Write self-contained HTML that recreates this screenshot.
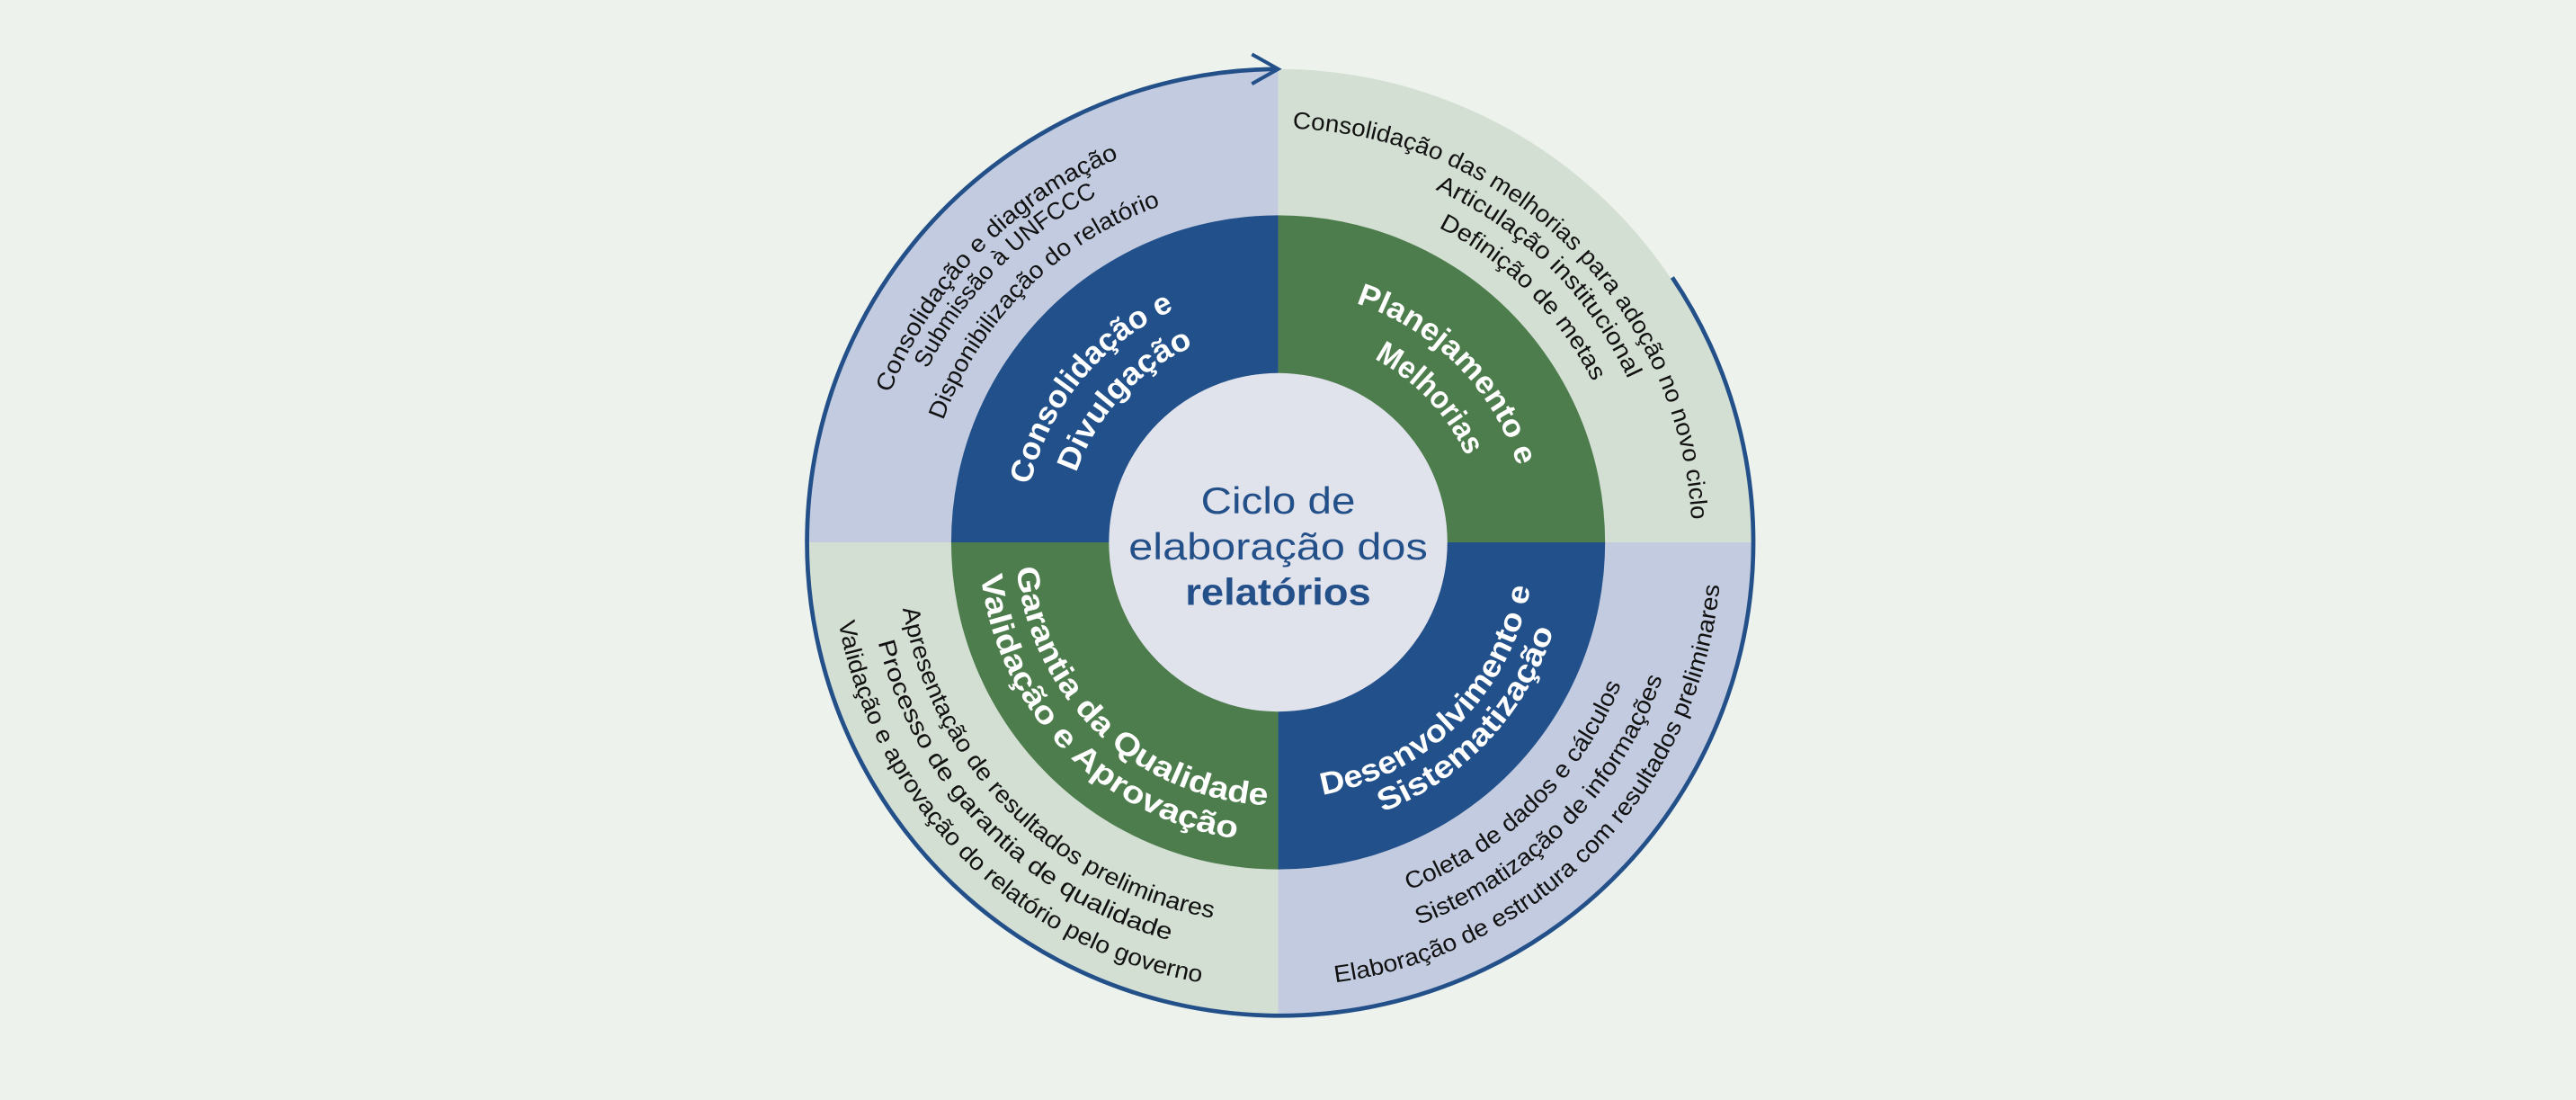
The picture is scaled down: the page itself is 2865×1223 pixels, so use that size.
<!DOCTYPE html>
<html><head><meta charset="utf-8"><style>
html,body{margin:0;padding:0;background:#edf3ec;}
svg{display:block;}
.o{font-family:"Liberation Sans",sans-serif;font-size:14.5px;fill:#111;}
.m{font-family:"Liberation Sans",sans-serif;font-size:19px;font-weight:bold;fill:#fff;}
.c{font-family:"Liberation Sans",sans-serif;font-size:23px;fill:#24508a;}
</style></head><body>
<svg width="2865" height="1223" viewBox="0 0 1568 669.3" xmlns="http://www.w3.org/2000/svg">
<rect x="0" y="0" width="1568" height="670" fill="#edf3ec"/>
<defs>
<path id="p1" d="M541.8,239.3 A253,253 0 0 1 680.8,96.4"/>
<path id="p2" d="M564.6,224.5 A238,238 0 0 1 667.7,119.1"/>
<path id="p3" d="M574.1,255.8 A217,217 0 0 1 706.3,125.2"/>
<path id="p4" d="M786.8,78.2 A252,252 0 0 1 1029.6,316.8"/>
<path id="p5" d="M873.6,115.3 A235,235 0 0 1 991.0,230.7"/>
<path id="p6" d="M875.6,138.4 A215,215 0 0 1 969.6,232.4"/>
<path id="p7" d="M627.0,295.1 A155,155 0 0 1 715.0,188.4"/>
<path id="p8" d="M655.1,287.7 A130,130 0 0 1 727.2,210.3"/>
<path id="p9" d="M825.3,184.5 A153,153 0 0 1 923.9,284.0"/>
<path id="p10" d="M836.4,218.3 A126,126 0 0 1 892.8,278.2"/>
<path id="p11" d="M857.5,541.6 A226,226 0 0 0 987.1,415.8"/>
<path id="p12" d="M863.6,562.7 A248,248 0 0 0 1012.2,411.6"/>
<path id="p13" d="M812.8,597.8 A270,270 0 0 0 1046.8,354.9"/>
<path id="p14" d="M805.1,483.6 A156,156 0 0 0 931.6,357.1"/>
<path id="p15" d="M841.6,494.1 A176,176 0 0 0 945.9,382.9"/>
<path id="p16" d="M549.5,370.3 A232,232 0 0 0 739.3,558.8"/>
<path id="p17" d="M534.5,390.7 A251,251 0 0 0 713.0,572.4"/>
<path id="p18" d="M510.4,378.6 A272,272 0 0 0 731.7,598.0"/>
<path id="p19" d="M618.8,345.6 A160,160 0 0 0 772.4,489.9"/>
<path id="p20" d="M597.1,350.3 A182,182 0 0 0 753.6,510.4"/>
</defs>
<path d="M778,330 L490,330 A288,288 0 0 1 778,42 Z" fill="#c2cbdf"/>
<path d="M778,330 L778,42 A288,288 0 0 1 1066,330 Z" fill="#d3dfd3"/>
<path d="M778,330 L1066,330 A288,288 0 0 1 778,618 Z" fill="#c2cbdf"/>
<path d="M778,330 L778,618 A288,288 0 0 1 490,330 Z" fill="#d3dfd3"/>
<path d="M778,330 L579,330 A199,199 0 0 1 778,131 Z" fill="#22508a"/>
<path d="M778,330 L778,131 A199,199 0 0 1 977,330 Z" fill="#4e7d4d"/>
<path d="M778,330 L977,330 A199,199 0 0 1 778,529 Z" fill="#22508a"/>
<path d="M778,330 L778,529 A199,199 0 0 1 579,330 Z" fill="#4e7d4d"/>
<circle cx="778" cy="330" r="103" fill="#e1e3ec"/>
<path d="M1017.9,168.8 A288,288 0 1 1 778,42" fill="none" stroke="#24508a" stroke-width="2.6"/>
<path d="M762,33 L778,42 L762,51" fill="none" stroke="#24508a" stroke-width="2.2"/>
<text class="o"><textPath href="#p1" textLength="205" lengthAdjust="spacingAndGlyphs">Consolidação e diagramação</textPath></text>
<text class="o"><textPath href="#p2" textLength="150" lengthAdjust="spacingAndGlyphs">Submissão à UNFCCC</textPath></text>
<text class="o"><textPath href="#p3" textLength="192" lengthAdjust="spacingAndGlyphs">Disponibilização do relatório</textPath></text>
<text class="o"><textPath href="#p4" textLength="373" lengthAdjust="spacingAndGlyphs">Consolidação das melhorias para adoção no novo ciclo</textPath></text>
<text class="o"><textPath href="#p5" textLength="168" lengthAdjust="spacingAndGlyphs">Articulação institucional</textPath></text>
<text class="o"><textPath href="#p6" textLength="135" lengthAdjust="spacingAndGlyphs">Definição de metas</textPath></text>
<text class="o"><textPath href="#p11" textLength="185" lengthAdjust="spacingAndGlyphs">Coleta de dados e cálculos</textPath></text>
<text class="o"><textPath href="#p12" textLength="218" lengthAdjust="spacingAndGlyphs">Sistematização de informações</textPath></text>
<text class="o"><textPath href="#p13" textLength="363" lengthAdjust="spacingAndGlyphs">Elaboração de estrutura com resultados preliminares</textPath></text>
<text class="o"><textPath href="#p16" textLength="284" lengthAdjust="spacingAndGlyphs">Apresentação de resultados preliminares</textPath></text>
<text class="o"><textPath href="#p17" textLength="266" lengthAdjust="spacingAndGlyphs">Processo de garantia de qualidade</textPath></text>
<text class="o"><textPath href="#p18" textLength="331" lengthAdjust="spacingAndGlyphs">Validação e aprovação do relatório pelo governo</textPath></text>
<text class="m"><textPath href="#p7" textLength="143" lengthAdjust="spacingAndGlyphs">Consolidação e</textPath></text>
<text class="m"><textPath href="#p8" textLength="108" lengthAdjust="spacingAndGlyphs">Divulgação</textPath></text>
<text class="m"><textPath href="#p9" textLength="145" lengthAdjust="spacingAndGlyphs">Planejamento e</textPath></text>
<text class="m"><textPath href="#p10" textLength="83" lengthAdjust="spacingAndGlyphs">Melhorias</textPath></text>
<text class="m"><textPath href="#p14" textLength="190" lengthAdjust="spacingAndGlyphs">Desenvolvimento e</textPath></text>
<text class="m"><textPath href="#p15" textLength="157" lengthAdjust="spacingAndGlyphs">Sistematização</textPath></text>
<text class="m"><textPath href="#p19" textLength="229" lengthAdjust="spacingAndGlyphs">Garantia da Qualidade</textPath></text>
<text class="m"><textPath href="#p20" textLength="240" lengthAdjust="spacingAndGlyphs">Validação e Aprovação</textPath></text>
<text class="c" x="778" y="312.5" text-anchor="middle" textLength="94" lengthAdjust="spacingAndGlyphs">Ciclo de</text>
<text class="c" x="778" y="340.5" text-anchor="middle" textLength="182" lengthAdjust="spacingAndGlyphs">elaboração dos</text>
<text class="c" x="778" y="368" text-anchor="middle" font-weight="bold" textLength="113" lengthAdjust="spacingAndGlyphs">relatórios</text>
</svg>
</body></html>
